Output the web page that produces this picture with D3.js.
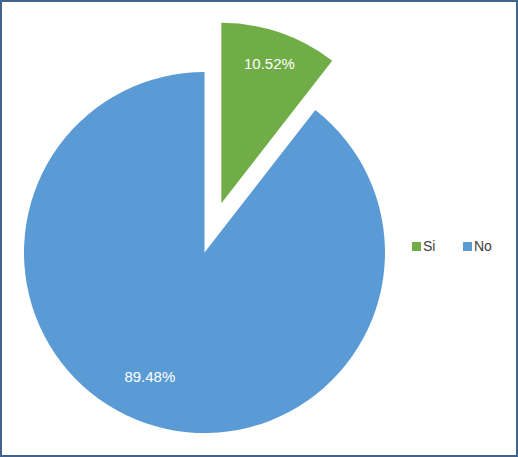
<!DOCTYPE html>
<html><head><meta charset="utf-8">
<script src="https://cdn.jsdelivr.net/npm/d3@7"></script>
<style>body{margin:0;background:#fff}svg{display:block}</style>
</head><body>
<script>
const categories = ["Si", "No"];
const values = [10.52, 89.48];
const labels = ["10.52%", "89.48%"];
const colors = ["#70ad47", "#5b9bd5"];

const W = 518, H = 457;
const svg = d3.select("body").append("svg").attr("width", W).attr("height", H);
svg.append("rect").attr("x", 1).attr("y", 1).attr("width", W - 2).attr("height", H - 2)
  .attr("fill", "#fff").attr("stroke", "#41648e").attr("stroke-width", 2);

const cx = 204.5, cy = 252.5, R = 180.5, explode = 52;
const pie = d3.pie().sort(null).value(d => d)(values);
const arc = d3.arc().innerRadius(0).outerRadius(R);
const g = svg.append("g").attr("transform", `translate(${cx},${cy})`);
const labelR = [0.82, 0.75];
pie.forEach((p, i) => {
  const mid = (p.startAngle + p.endAngle) / 2;
  const off = i === 0 ? explode : 0;
  const dx = Math.sin(mid) * off, dy = -Math.cos(mid) * off;
  const sg = g.append("g").attr("transform", `translate(${dx},${dy})`);
  sg.append("path").attr("d", arc(p)).attr("fill", colors[i]);
  const la = i === 0 ? mid : mid + 0.085;
  sg.append("text").attr("x", Math.sin(la) * R * labelR[i]).attr("y", -Math.cos(la) * R * labelR[i])
    .attr("text-anchor", "middle").attr("dy", "0.35em")
    .attr("font-family", "Liberation Sans, Arial, sans-serif").attr("font-size", 15)
    .attr("fill", "#fff").text(labels[i]);
});

const leg = svg.append("g");
const lx = [412, 463];
categories.forEach((c, i) => {
  leg.append("rect").attr("x", lx[i]).attr("y", 242).attr("width", 9).attr("height", 9).attr("fill", colors[i]);
  leg.append("text").attr("x", lx[i] + 11).attr("y", 251)
    .attr("font-family", "Liberation Sans, Arial, sans-serif").attr("font-size", 14)
    .attr("fill", "#404040").text(c);
});
</script>
</body></html>
